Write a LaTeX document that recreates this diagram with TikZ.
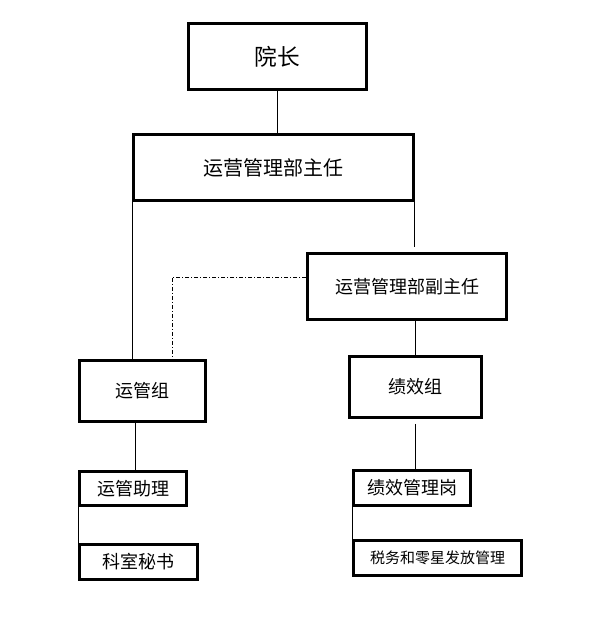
\documentclass[tikz,border=0pt]{standalone}
\usepackage{fontspec}
\newfontfamily\cjk{Noto Sans CJK SC}
\usetikzlibrary{positioning}

\begin{document}
\begin{tikzpicture}[x=0.75pt,y=-0.75pt,
                box/.style={draw,line width=2.2pt,inner sep=0pt,font=\cjk\fontsize{13.5}{14}\selectfont},
                link/.style={line width=0.75pt},
                dashdot/.style={link,dash pattern=on 3pt off 1.5pt on 0.75pt off 1.5pt}]

  \useasboundingbox (0,0) rectangle (608,618);

  \node[box, minimum width=133.5pt, minimum height=49.5pt, font=\cjk\fontsize{17}{18}\selectfont] (yz) at (277.5,56.5) {院长};
  \node[box, minimum width=210pt, minimum height=49.5pt, font=\cjk\fontsize{15}{16}\selectfont] (zr) at (273.5,167.5) {运营管理部主任};
  \node[box, minimum width=149pt, minimum height=49.5pt] (fzr) at (407,286.5) {运营管理部副主任};
  \node[box, minimum width=94.5pt, minimum height=45.75pt] (ygz) at (142.5,391) {运管组};
  \node[box, minimum width=99pt, minimum height=45.75pt] (jxz) at (415.5,387) {绩效组};
  \node[box, minimum width=80pt, minimum height=25.5pt] (ygzl) at (133,488.5) {运管助理};
  \node[box, minimum width=88.5pt, minimum height=26.25pt] (ksms) at (138.5,562) {科室秘书};
  \node[box, minimum width=87.75pt, minimum height=26.25pt] (jxg) at (412,488) {绩效管理岗};
  \node[box, minimum width=126pt, minimum height=26.25pt, font=\cjk\fontsize{11.25}{12}\selectfont] (sw) at (437.5,558) {税务和零星发放管理};

  \coordinate (dd) at (172,277);

  \draw[link] (yz.south) -- (yz.south |- zr.north);
  \draw[link] (zr.south west) -- (zr.south west |- ygz.north);
  \draw[link, shorten >=3.75pt] (zr.south east) -- (zr.south east |- fzr.north);
  \draw[dashdot] (fzr.west |- dd) -- (dd) -- (dd |- ygz.north);
  \draw[link] (fzr.south -| jxz.north) -- (jxz.north);
  \draw[link] ([xshift=-5pt]ygz.south) -- ([xshift=-5pt]ygz.south |- ygzl.north);
  \draw[link] (ygzl.south west) -- (ygzl.south west |- ksms.north);
  \draw[link, shorten <=3.75pt] (jxz.south) -- (jxz.south |- jxg.north);
  \draw[link] (jxg.south west) -- (jxg.south west |- sw.north);
\end{tikzpicture}
\end{document}
